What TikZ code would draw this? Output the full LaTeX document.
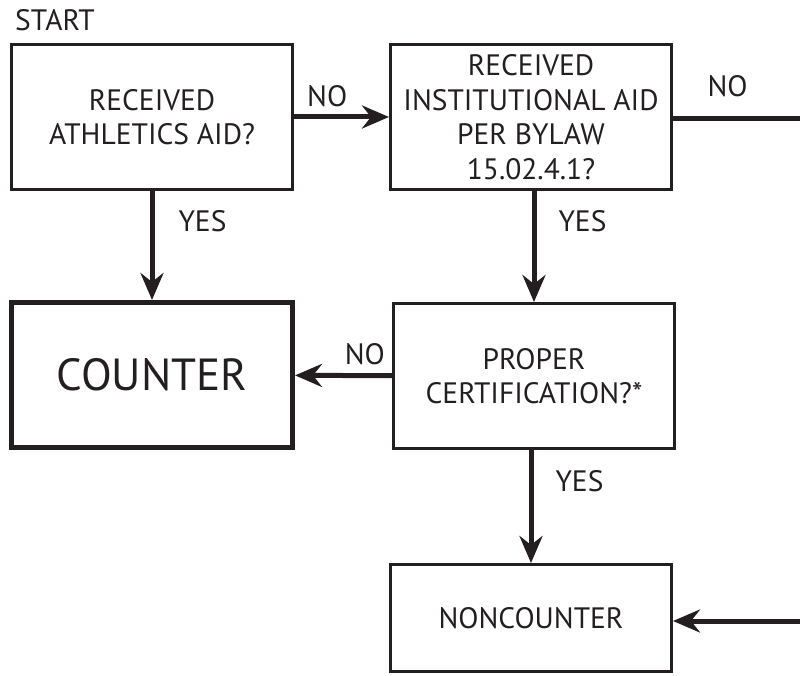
\documentclass[tikz,border=0pt]{standalone}
\usepackage{fontspec}
\setmainfont{PT Sans}
\usetikzlibrary{positioning,arrows.meta}
\definecolor{ink}{RGB}{35,31,32}
\tikzset{
    box/.style = {
        draw = ink,
        line width = 3pt,
        inner sep = 2pt,
        minimum width = 281pt,
        minimum height = 145pt,
        align = center,
        text = ink,
        font = \fontsize{29.5}{34.5}\selectfont,
        },
    counter box/.style = {
        line width = 5pt,
        font = \fontsize{45}{50}\selectfont,
        },
    flow/.style = {
        draw = ink,
        line width = 5pt,
        -{Stealth[length=27pt,width=23pt,inset=9pt]},
        },
    plain flow/.style = {
        draw = ink,
        line width = 5pt,
        },
    answer/.style = {
        text = ink,
        inner sep = 0pt,
        font = \fontsize{29.5}{35}\selectfont,
        },
}
\begin{document}
\begin{tikzpicture}[x=1pt,y=1pt]
            \useasboundingbox (0,0) rectangle (800,-676);
            \node[box] (athl) at (152,-117) {RECEIVED\\ATHLETICS AID?};
            \node[box, right=95pt of athl] (inst) {RECEIVED\\INSTITUTIONAL AID\\PER BYLAW\\15.02.4.1?};
            \node[box, counter box, below=109pt of athl] (counter) {COUNTER};
            \node[box, below=111pt of inst, xshift=3pt] (cert) {PROPER\\CERTIFICATION?*};
            \node[box, minimum height=107pt, below=113pt of cert, xshift=-3pt] (noncounter) {NONCOUNTER};
            \node[answer, above right=12pt and 5pt of athl.north west] (start) {START};
            \coordinate (out) at (800,-119);
            \coordinate (in) at (800,-621);

            \path (athl) edge[flow] node[answer, pos=0.35, above=8pt] {NO} (inst);
            \path (athl) edge[flow] node[answer, pos=0.28, right=24pt] {YES} (counter);
            \path (inst.south -| cert.north) edge[flow] node[answer, pos=0.27, right=22pt] {YES} (cert);
            \path (cert) edge[flow] node[answer, pos=0.28, above=8pt] {NO} (counter);
            \path (cert.south -| noncounter.north) edge[flow] node[answer, pos=0.28, right=22pt] {YES} (noncounter);
            \path (inst.east |- out) edge[plain flow] node[answer, pos=0.43, above=20pt] {NO} (out);
            \path (in) edge[flow] (in -| noncounter.east);
        \end{tikzpicture}
\end{document}
